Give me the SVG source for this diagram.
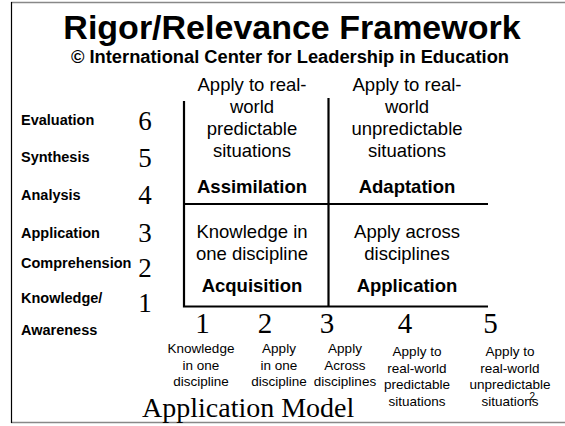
<svg xmlns="http://www.w3.org/2000/svg" width="565" height="426" viewBox="0 0 565 426">
<style>
.t{font-family:"Liberation Sans",Arial,sans-serif;fill:#000}
.b{font-weight:bold}
.q{font-size:18.5px;text-anchor:middle}
.lv{font-size:14.5px;font-weight:bold}
.n{font-family:"Liberation Serif","Times New Roman",serif;fill:#000}
.nl{font-size:27px;text-anchor:middle}
.nb{font-size:29px;text-anchor:middle}
.s{font-size:13.5px;text-anchor:middle}
.grid{stroke:#000;stroke-width:2.2;fill:none}
</style>
<rect width="565" height="426" fill="#fff"/>
<g id="frame">
<line x1="11" y1="2.5" x2="565" y2="2.5" stroke="#888" stroke-width="1.5"/>
<line x1="11" y1="422.5" x2="565" y2="422.5" stroke="#888" stroke-width="1.5"/>
<line x1="11.5" y1="2" x2="11.5" y2="423" stroke="#000" stroke-width="1.2"/>
</g>
<g id="title">
<text class="t b" x="292" y="39" font-size="34" text-anchor="middle">Rigor/Relevance Framework</text>
<text class="t b" x="290" y="63" font-size="18.3" text-anchor="middle">© International Center for Leadership in Education</text>
</g>
<g id="connectors">
<polyline class="grid" points="184,101 184,306.5 488,306.5"/>
<line class="grid" x1="328.5" y1="98" x2="328.5" y2="306.5"/>
<line class="grid" x1="184" y1="204" x2="488" y2="204"/>
</g>
<g id="q-assimilation">
<text class="t q" x="252" y="91">Apply to real-</text>
<text class="t q" x="252" y="113">world</text>
<text class="t q" x="252" y="135">predictable</text>
<text class="t q" x="252" y="157">situations</text>
<text class="t q b" x="252" y="193">Assimilation</text>
</g>
<g id="q-adaptation">
<text class="t q" x="407" y="91">Apply to real-</text>
<text class="t q" x="407" y="113">world</text>
<text class="t q" x="407" y="135">unpredictable</text>
<text class="t q" x="407" y="157">situations</text>
<text class="t q b" x="407" y="193">Adaptation</text>
</g>
<g id="q-acquisition">
<text class="t q" x="252" y="238">Knowledge in</text>
<text class="t q" x="252" y="260">one discipline</text>
<text class="t q b" x="252" y="292">Acquisition</text>
</g>
<g id="q-application">
<text class="t q" x="407" y="238">Apply across</text>
<text class="t q" x="407" y="260">disciplines</text>
<text class="t q b" x="407" y="292">Application</text>
</g>
<g id="rigor-axis">
<text class="t lv" x="21" y="125">Evaluation</text>
<text class="t lv" x="21" y="162">Synthesis</text>
<text class="t lv" x="21" y="200">Analysis</text>
<text class="t lv" x="21" y="238">Application</text>
<text class="t lv" x="21" y="268">Comprehension</text>
<text class="t lv" x="21" y="303">Knowledge/</text>
<text class="t lv" x="21" y="335">Awareness</text>
<text class="n nl" x="145" y="130">6</text>
<text class="n nl" x="145" y="167">5</text>
<text class="n nl" x="145" y="204">4</text>
<text class="n nl" x="145" y="242">3</text>
<text class="n nl" x="145" y="277">2</text>
<text class="n nl" x="145" y="312">1</text>
</g>
<g id="application-axis">
<text class="n nb" x="202.5" y="333">1</text>
<text class="n nb" x="265" y="333">2</text>
<text class="n nb" x="327" y="333">3</text>
<text class="n nb" x="405" y="333">4</text>
<text class="n nb" x="490.5" y="333">5</text>
<text class="t s" x="201" y="353">Knowledge</text>
<text class="t s" x="201" y="369.5">in one</text>
<text class="t s" x="201" y="386">discipline</text>
<text class="t s" x="279" y="353">Apply</text>
<text class="t s" x="279" y="369.5">in one</text>
<text class="t s" x="279" y="386">discipline</text>
<text class="t s" x="345" y="353">Apply</text>
<text class="t s" x="345" y="369.5">Across</text>
<text class="t s" x="345" y="386">disciplines</text>
<text class="t s" x="417" y="356">Apply to</text>
<text class="t s" x="417" y="372.5">real-world</text>
<text class="t s" x="417" y="389">predictable</text>
<text class="t s" x="417" y="405.5">situations</text>
<text class="t s" x="510" y="356">Apply to</text>
<text class="t s" x="510" y="372.5">real-world</text>
<text class="t s" x="510" y="389">unpredictable</text>
<text class="t s" x="510" y="405.5">situations</text>
<text class="n" x="142" y="417" font-size="28">Application Model</text>
<text class="t" x="529.5" y="400" font-size="10">2</text>
</g>
</svg>
